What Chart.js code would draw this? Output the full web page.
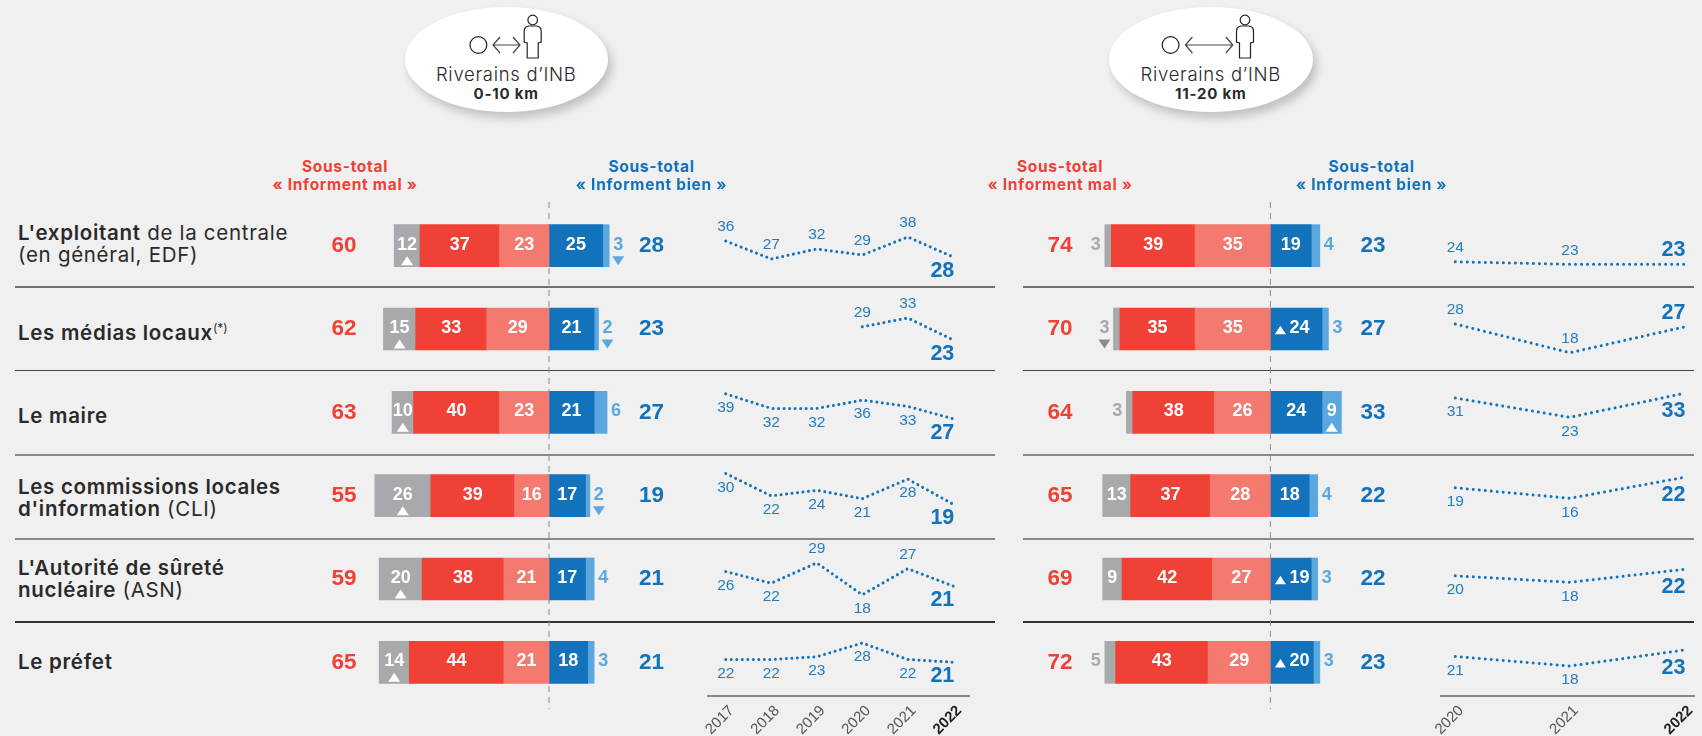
<!DOCTYPE html>
<html lang="fr">
<head>
<meta charset="utf-8">
<title>Riverains d'INB</title>
<script src="https://cdn.jsdelivr.net/npm/chart.js@4"></script>
<style>
    html, body { margin: 0; padding: 0; background: #f0f0f0; }
    body { position: relative; width: 1702px; height: 736px; overflow: hidden; font-family: Inter, "Open Sans", sans-serif; color: #2a2a2a; }
    canvas { position: absolute; }
    .rule { position: absolute; }
    .bubble { position: absolute; top: 7px; height: 105px; border-radius: 50%; background: #fff; box-shadow: 4px 6px 10px rgba(0,0,0,.2); }
    .bubble-title { position: absolute; width: 200px; text-align: center; font-size: 18.5px; font-weight: 300; line-height: 20px; letter-spacing: .7px; }
    .bubble-sub { position: absolute; width: 200px; text-align: center; font-size: 15px; font-weight: 700; line-height: 18px; letter-spacing: .8px; }
    .head { position: absolute; width: 200px; text-align: center; font: bold 15.5px/18px Inter, sans-serif; letter-spacing: .7px; }
    .row-label { position: absolute; left: 18px; font-size: 20.5px; line-height: 21.5px; letter-spacing: .7px; white-space: nowrap; }
    .row-label b { font-weight: 600; }
    .row-label sup { font-size: 12px; line-height: 0; letter-spacing: 0; }
    svg { position: absolute; left: 0; top: 0; }
</style>
</head>
<body>

<canvas id="barsNear" width="360" height="507" style="left:320px;top:202px"></canvas>
<canvas id="barsFar" width="370" height="507" style="left:1030px;top:202px"></canvas>
<canvas id="trendNear" width="320" height="546" style="left:680px;top:190px"></canvas>
<canvas id="trendFar" width="282" height="546" style="left:1420px;top:190px"></canvas>

<script>
// lignes du tableau
const categories = ["L'exploitant de la centrale (en général, EDF)", "Les médias locaux", "Le maire",
    "Les commissions locales d'information (CLI)", "L'Autorité de sûreté nucléaire (ASN)", "Le préfet"];
const rowLabels = ["<b>L'exploitant</b> de la centrale<br>(en général, EDF)", "<b>Les médias locaux</b><sup>(*)</sup>", "<b>Le maire</b>",
    "<b>Les commissions locales<br>d'information</b> (CLI)", "<b>L'Autorité de sûreté<br>nucléaire</b> (ASN)", "<b>Le préfet</b>"];

// 0-10 km
const greyNear = [12, 15, 10, 26, 20, 14];
const redNear = [37, 33, 40, 39, 38, 44];
const salmonNear = [23, 29, 23, 16, 21, 21];
const blueNear = [25, 21, 21, 17, 17, 18];
const lightNear = [3, 2, 6, 2, 4, 3];
const subMalNear = [60, 62, 63, 55, 59, 65];
const subBienNear = [28, 23, 27, 19, 21, 21];
const greyArrowsNear = ["up", "up", "up", "up", "up", "up"];
const blueArrowsNear = ["", "", "", "", "", ""];
const lightArrowsNear = ["down", "down", "", "down", "", ""];

// 11-20 km
const greyFar = [3, 3, 3, 13, 9, 5];
const redFar = [39, 35, 38, 37, 42, 43];
const salmonFar = [35, 35, 26, 28, 27, 29];
const blueFar = [19, 24, 24, 18, 19, 20];
const lightFar = [4, 3, 9, 4, 3, 3];
const subMalFar = [74, 70, 64, 65, 69, 72];
const subBienFar = [23, 27, 33, 22, 22, 23];
const greyArrowsFar = ["", "down", "", "", "", ""];
const blueArrowsFar = ["", "up", "", "", "up", "up"];
const lightArrowsFar = ["", "", "up", "", "", ""];

// courbes "Informent bien"
const yearsNear = [2017, 2018, 2019, 2020, 2021, 2022];
const trendsNear = [
    [36, 27, 32, 29, 38, 28],
    [null, null, null, 29, 33, 23],
    [39, 32, 32, 36, 33, 27],
    [30, 22, 24, 21, 28, 19],
    [26, 22, 29, 18, 27, 21],
    [22, 22, 23, 28, 22, 21]
];
const placeNear = ["aaaaab", "aaaaab", "bbbbbb", "bbbbbb", "bbabab", "bbbbbb"]; // a = dessus, b = dessous
const yearsFar = [2020, 2021, 2022];
const trendsFar = [
    [24, 23, 23],
    [28, 18, 27],
    [31, 23, 33],
    [19, 16, 22],
    [20, 18, 22],
    [21, 18, 23]
];
const placeFar = ["aaa", "aaa", "bbb", "bbb", "bbb", "bbb"];

const GREY = "#a7a9ac", RED = "#ef4136", SALMON = "#f4796f", BLUE = "#1272bb", LIGHT = "#5ba8df";
const PX_PER_POINT = 2.15;
const SANS = '"Liberation Sans", Arial, sans-serif';

function drawArrow(ctx, x, y, dir, w, h, color) {
    ctx.fillStyle = color;
    ctx.beginPath();
    if (dir === "up") {
        ctx.moveTo(x - w / 2, y + h / 2); ctx.lineTo(x + w / 2, y + h / 2); ctx.lineTo(x, y - h / 2);
    } else {
        ctx.moveTo(x - w / 2, y - h / 2); ctx.lineTo(x + w / 2, y - h / 2); ctx.lineTo(x, y + h / 2);
    }
    ctx.closePath();
    ctx.fill();
}

// trait pointillé du zéro
const zeroLine = {
    id: "zeroLine",
    beforeDatasetsDraw(chart) {
        const ctx = chart.ctx, x = chart.scales.x.getPixelForValue(0);
        ctx.save();
        ctx.strokeStyle = "#8d8d8d";
        ctx.lineWidth = 1;
        ctx.setLineDash([6, 5]);
        ctx.beginPath();
        ctx.moveTo(x, 0);
        ctx.lineTo(x, chart.height);
        ctx.stroke();
        ctx.restore();
    }
};

// valeurs dans les barres, flèches et sous-totaux
const barLabels = {
    id: "barLabels",
    afterDatasetsDraw(chart) {
        const ctx = chart.ctx, zero = chart.scales.x.getPixelForValue(0);
        ctx.save();
        ctx.textAlign = "center";
        ctx.textBaseline = "middle";
        chart.data.datasets.forEach((ds, d) => {
            chart.getDatasetMeta(d).data.forEach((bar, i) => {
                const v = Math.abs(ds.data[i]);
                const arrow = ds.arrows ? ds.arrows[i] : "";
                const mid = (bar.x + bar.base) / 2;
                const y = bar.y - 1;
                let x = mid, color = "#fff";
                if (ds.outer && v < 8) {
                    x = bar.x + ds.outer * 9;
                    color = ds.backgroundColor;
                }
                ctx.font = "bold 18px " + SANS;
                if (ds.inlineArrow && arrow) {
                    ctx.fillStyle = "#fff";
                    ctx.fillText(v, zero + 29, y);
                    drawArrow(ctx, zero + 10, y + 2, arrow, 11, 8.5, "#fff");
                    return;
                }
                ctx.fillStyle = color;
                ctx.fillText(v, x, y);
                if (arrow) {
                    let arrowColor = color;
                    if (color === GREY) arrowColor = "#8a8b8e";
                    drawArrow(ctx, x, bar.y + 15, arrow, 12, 9, arrowColor);
                }
            });
        });
        // sous-totaux à gauche et à droite
        const rows = chart.getDatasetMeta(0).data;
        ctx.font = "bold 22.5px " + SANS;
        rows.forEach((bar, i) => {
            ctx.fillStyle = RED;
            ctx.fillText(chart.options.subMal[i], zero + chart.options.subMalX, bar.y);
            ctx.fillStyle = BLUE;
            ctx.fillText(chart.options.subBien[i], zero + chart.options.subBienX, bar.y);
        });
        ctx.restore();
    }
};

function makeBars(id, zeroX, grey, red, salmon, blue, light, subMal, subBien, greyArrows, blueArrows, lightArrows, subMalX, subBienX) {
    const canvas = document.getElementById(id);
    const neg = arr => arr.map(v => -v);
    new Chart(canvas, {
        type: "bar",
        data: {
            labels: categories,
            datasets: [
                { data: neg(salmon), backgroundColor: SALMON },
                { data: neg(red), backgroundColor: RED },
                { data: neg(grey), backgroundColor: GREY, arrows: greyArrows, outer: -1 },
                { data: blue, backgroundColor: BLUE, arrows: blueArrows, inlineArrow: true },
                { data: light, backgroundColor: LIGHT, arrows: lightArrows, outer: 1 }
            ]
        },
        options: {
            indexAxis: "y",
            responsive: false,
            animation: false,
            barThickness: 42,
            subMal: subMal,
            subBien: subBien,
            subMalX: subMalX,
            subBienX: subBienX,
            layout: { padding: { top: 2, bottom: 5 } },
            plugins: { legend: { display: false }, tooltip: { enabled: false } },
            scales: {
                x: { display: false, stacked: true, min: -zeroX / PX_PER_POINT, max: (canvas.width - zeroX) / PX_PER_POINT },
                y: { display: false, stacked: true }
            }
        },
        plugins: [zeroLine, barLabels]
    });
}

// étiquettes des courbes, la dernière année en gras
const trendLabels = {
    id: "trendLabels",
    afterDatasetsDraw(chart) {
        const ctx = chart.ctx, o = chart.options;
        ctx.save();
        ctx.fillStyle = BLUE;
        ctx.textBaseline = "middle";
        chart.data.datasets.forEach((ds, d) => {
            chart.getDatasetMeta(d).data.forEach((pt, k) => {
                if (ds.data[k].y === null) return;
                const above = ds.place[k] === "a";
                const last = k === ds.data.length - 1;
                if (last) {
                    ctx.font = "bold 21.5px " + SANS;
                    ctx.textAlign = "right";
                    ctx.globalAlpha = 1;
                    ctx.fillText(ds.data[k].y, pt.x + 1, pt.y + (above ? -14 : o.lastBelow));
                } else {
                    ctx.font = "15.5px " + SANS;
                    ctx.textAlign = "center";
                    ctx.globalAlpha = 0.92;
                    ctx.fillText(ds.data[k].y, pt.x, pt.y + (above ? -14 : 14));
                }
            });
        });
        ctx.restore();
    }
};

function makeTrend(id, years, trends, place, yearMin, yearMax, padLeft, padRight, scales, bases, dash, lastBelow) {
    const axisHeight = 40;
    const top = 190, canvas = document.getElementById(id);
    const bottom = top + canvas.height - axisHeight;
    const opts = {
        x: {
            type: "linear",
            min: yearMin,
            max: yearMax,
            afterBuildTicks(scale) { scale.ticks = years.map(v => ({ value: v })); },
            afterFit(scale) { scale.height = axisHeight; },
            grid: { display: false },
            border: { display: true, color: "#888", width: 2 },
            ticks: {
                autoSkip: false,
                minRotation: 45,
                maxRotation: 45,
                padding: -2,
                labelOffset: 6,
                callback: v => String(v),
                color: c => (c.tick && c.tick.value === 2022) ? "#222" : "#555",
                font: c => ({ family: SANS, size: 15, weight: (c.tick && c.tick.value === 2022) ? "bold" : "normal" })
            }
        }
    };
    trends.forEach((t, i) => {
        // chaque ligne a sa propre échelle, cachée
        opts["y" + i] = { display: false, min: (bases[i] - bottom) / scales[i], max: (bases[i] - top) / scales[i] };
    });
    new Chart(canvas, {
        type: "line",
        data: {
            datasets: trends.map((t, i) => ({
                data: years.map((year, k) => ({ x: year, y: t[k] })),
                yAxisID: "y" + i,
                place: place[i],
                borderColor: BLUE,
                borderWidth: 3,
                borderDash: dash,
                borderCapStyle: "round",
                pointRadius: 0,
                tension: 0
            }))
        },
        options: {
            responsive: false,
            animation: false,
            lastBelow: lastBelow,
            layout: { padding: { left: padLeft, right: padRight } },
            plugins: { legend: { display: false }, tooltip: { enabled: false } },
            scales: opts
        },
        plugins: [trendLabels]
    });
}

makeBars("barsNear", 229, greyNear, redNear, salmonNear, blueNear, lightNear, subMalNear, subBienNear,
    greyArrowsNear, blueArrowsNear, lightArrowsNear, -205, 102.5);
makeBars("barsFar", 240.4, greyFar, redFar, salmonFar, blueFar, lightFar, subMalFar, subBienFar,
    greyArrowsFar, blueArrowsFar, lightArrowsFar, -210.4, 102.6);

makeTrend("trendNear", yearsNear, trendsNear, placeNear, 2016.61, 2022.345, 28, 31,
    [2, 2.2, 2.08, 2.8, 2.9, 2.75], [313, 390.6, 475, 557.5, 647, 720], [0.01, 5.5], 14);
makeTrend("trendFar", yearsFar, trendsFar, placeFar, 2019.875, 2022.083, 21, 8,
    [2.5, 2.87, 2.4, 3.5, 3.25, 3.2], [321.8, 404.4, 472.5, 554.3, 640.8, 723.6], [0.01, 6], 18);

// libellés, filets et médaillons en HTML
const labelTops = [222, 322, 405, 476, 557, 651];
rowLabels.forEach((html, i) => {
    const el = document.createElement("div");
    el.className = "row-label";
    el.style.top = labelTops[i] + "px";
    el.innerHTML = html;
    document.body.appendChild(el);
});

[[286.3, 1.5, "#6f6f6f"], [369.6, 1.5, "#444"], [454.2, 2, "#888"], [538.2, 2, "#888"], [621, 1.5, "#333"]].forEach(([y, h, color]) => {
    [[14.5, 980], [1023, 671]].forEach(([x, w]) => {
        const el = document.createElement("div");
        el.className = "rule";
        el.style.cssText = `left:${x}px;top:${y}px;width:${w}px;height:${h}px;background:${color}`;
        document.body.insertBefore(el, document.body.firstChild);
    });
});

function addText(cls, cx, top, text, color) {
    const el = document.createElement("div");
    el.className = cls;
    el.style.left = (cx - 100) + "px";
    el.style.top = top + "px";
    if (color) el.style.color = color;
    el.textContent = text;
    document.body.appendChild(el);
}

function addBubble(left, width, circleX, arrowFrom, arrowTo, personX, sub) {
    const el = document.createElement("div");
    el.className = "bubble";
    el.style.left = left + "px";
    el.style.width = width + "px";
    document.body.insertBefore(el, document.querySelector("canvas"));
    const cx = left + width / 2;
    addText("bubble-title", cx, 64, "Riverains d’INB");
    addText("bubble-sub", cx, 84.5, sub);
    const svg = `<svg width="1702" height="120" fill="none" stroke="#222" stroke-width="1.2">
        <circle cx="${circleX}" cy="45" r="8.4"/>
        <path d="M${arrowFrom} 45H${arrowTo}M${arrowFrom + 7} 37L${arrowFrom} 45L${arrowFrom + 7} 53M${arrowTo - 7} 37L${arrowTo} 45L${arrowTo - 7} 53" stroke="#444"/>
        <circle cx="${personX}" cy="20" r="4.8"/>
        <path d="M${personX - 4} 26C${personX - 8.5} 27 ${personX - 8.5} 29 ${personX - 8.5} 33V42L${personX - 5.5} 43V58H${personX + 5.5}V43L${personX + 8.5} 42V33C${personX + 8.5} 29 ${personX + 8.5} 27 ${personX + 4} 26Z"/>
    </svg>`;
    document.body.insertAdjacentHTML("beforeend", svg);
}

addBubble(404.7, 203, 478.4, 493, 520, 532.7, "0-10 km");
addBubble(1108.8, 204, 1170.6, 1185.4, 1232.8, 1245, "11-20 km");

addText("head", 345, 157.5, "Sous-total", RED);
addText("head", 345, 175.5, "« Informent mal »", RED);
addText("head", 651.5, 157.5, "Sous-total", BLUE);
addText("head", 651.5, 175.5, "« Informent bien »", BLUE);
addText("head", 1060, 157.5, "Sous-total", RED);
addText("head", 1060, 175.5, "« Informent mal »", RED);
addText("head", 1371.6, 157.5, "Sous-total", BLUE);
addText("head", 1371.6, 175.5, "« Informent bien »", BLUE);
</script>
</body>
</html>
